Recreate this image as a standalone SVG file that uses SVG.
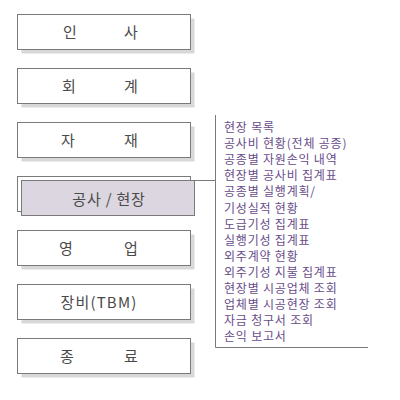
<svg xmlns="http://www.w3.org/2000/svg" width="400" height="400" viewBox="0 0 400 400">
<style>
.sh{fill:#d8d8d8}
.bx{fill:#ffffff;stroke:#7a7a7a;stroke-width:1}
.hl{fill:#dcd6e0;stroke:#7a7a7a;stroke-width:1}
.lb{font-family:"Noto Sans CJK KR","Noto Sans",sans-serif;font-size:15px;fill:#4a4a4a;text-anchor:middle;dominant-baseline:central}
.it{font-family:"Noto Sans CJK KR","Noto Sans",sans-serif;font-size:12px;fill:#674d8a;letter-spacing:0.8px}
.cn{stroke:#7a7a7a;stroke-width:1;fill:none}
</style>
<rect width="400" height="400" fill="#ffffff"/>
<g id="node-insa">
<rect class="sh" x="21.5" y="18.5" width="173" height="35"/>
<rect class="bx" x="17.5" y="14.5" width="173" height="35"/>
<text class="lb" x="70" y="31.5">인</text><text class="lb" x="131" y="31.5">사</text>
</g>
<g id="node-hoegye">
<rect class="sh" x="21.5" y="72.5" width="173" height="35"/>
<rect class="bx" x="17.5" y="68.5" width="173" height="35"/>
<text class="lb" x="69" y="85.5">회</text><text class="lb" x="131" y="85.5">계</text>
</g>
<g id="node-jajae">
<rect class="sh" x="21.5" y="126.5" width="173" height="35"/>
<rect class="bx" x="17.5" y="122.5" width="173" height="35"/>
<text class="lb" x="68" y="139.5">자</text><text class="lb" x="131" y="139.5">재</text>
</g>
<g id="node-gongsa">
<rect class="sh" x="21.5" y="180.5" width="173" height="35"/>
<rect class="bx" x="17.5" y="176.5" width="173" height="35"/>
<rect class="hl" x="21.5" y="180.5" width="173" height="35"/>
<text class="lb" x="109" y="198" letter-spacing="0.8">공사 / 현장</text>
</g>
<g id="node-yeongeop">
<rect class="sh" x="21.5" y="234.5" width="173" height="35"/>
<rect class="bx" x="17.5" y="230.5" width="173" height="35"/>
<text class="lb" x="66" y="247.5">영</text><text class="lb" x="131" y="247.5">업</text>
</g>
<g id="node-jangbi">
<rect class="sh" x="21.5" y="288.5" width="173" height="35"/>
<rect class="bx" x="17.5" y="284.5" width="173" height="35"/>
<text class="lb" x="99" y="301.5" letter-spacing="1.2">장비(TBM)</text>
</g>
<g id="node-jongryo">
<rect class="sh" x="21.5" y="342.5" width="173" height="35"/>
<rect class="bx" x="17.5" y="338.5" width="173" height="35"/>
<text class="lb" x="67" y="355.5">종</text><text class="lb" x="131" y="355.5">료</text>
</g>
<g id="connectors">
<path class="cn" d="M190.5 180.5H215.5M215.5 115V347.5H368"/>
</g>
<g id="node-menu">
<text class="it" x="224" y="132">현장 목록</text>
<text class="it" x="224" y="148.1">공사비 현황(전체 공종)</text>
<text class="it" x="224" y="164.2">공종별 자원손익 내역</text>
<text class="it" x="224" y="180.3">현장별 공사비 집계표</text>
<text class="it" x="224" y="196.4">공종별 실행계획/</text>
<text class="it" x="224" y="212.5">기성실적 현황</text>
<text class="it" x="224" y="228.6">도급기성 집계표</text>
<text class="it" x="224" y="244.7">실행기성 집계표</text>
<text class="it" x="224" y="260.8">외주계약 현황</text>
<text class="it" x="224" y="276.9">외주기성 지불 집계표</text>
<text class="it" x="224" y="293">현장별 시공업체 조회</text>
<text class="it" x="224" y="309.1">업체별 시공현장 조회</text>
<text class="it" x="224" y="325.2">자금 청구서 조회</text>
<text class="it" x="224" y="341.3">손익 보고서</text>
</g>
</svg>
